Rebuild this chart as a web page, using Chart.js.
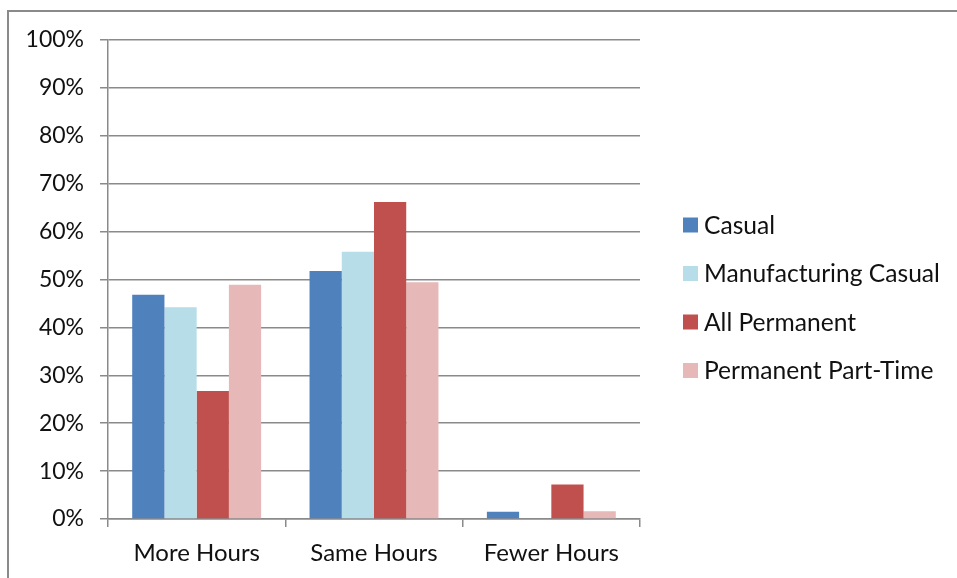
<!DOCTYPE html>
<html>
<head>
<meta charset="utf-8">
<script src="https://cdn.jsdelivr.net/npm/chart.js@4.4.1/dist/chart.umd.min.js"></script>
<style>
    html, body { margin: 0; padding: 0; background: #fff; overflow: hidden; }
    #frame {
        position: absolute; left: 7px; top: 10px; width: 980px; height: 600px;
        border-left: 2px solid #8a8a8a; border-top: 2px solid #8a8a8a;
    }
    #wrap { position: absolute; left: 0; top: 0; width: 957px; height: 578px; }
</style>
</head>
<body>
<div id="frame"></div>
<div id="wrap"><canvas id="hoursChart" width="957" height="578"></canvas></div>
<script>
const categories = ['More Hours', 'Same Hours', 'Fewer Hours'];
const casual = [46.8, 51.8, 1.5];
const manufacturingCasual = [44.2, 55.8, 0];
const allPermanent = [26.7, 66.2, 7.2];
const permanentPartTime = [48.9, 49.4, 1.6];
const yTicks = [0, 10, 20, 30, 40, 50, 60, 70, 80, 90, 100];

const FONT = 'Lato, "Open Sans", sans-serif';
const GRID = '#8a8a8a';

// Excel-style legend on the right: small square then label
const sideLegend = {
    id: 'sideLegend',
    afterDraw(chart) {
        const c = chart.ctx;
        const boxX = 683, box = 15, textX = 704, firstY = 225, step = 48.5;
        c.save();
        c.font = '24.6px ' + FONT;
        c.textBaseline = 'middle';
        c.textAlign = 'left';
        chart.data.datasets.forEach((ds, i) => {
            const cy = firstY + i * step;
            c.fillStyle = ds.backgroundColor;
            c.fillRect(boxX, cy - box / 2, box, box);
            c.fillStyle = '#111';
            c.fillText(ds.label, textX, cy + 1);
        });
        c.restore();
    }
};

const ctx = document.getElementById('hoursChart').getContext('2d');
new Chart(ctx, {
    type: 'bar',
    data: {
        labels: categories,
        datasets: [
            { label: 'Casual', data: casual, backgroundColor: '#4f81bd' },
            { label: 'Manufacturing Casual', data: manufacturingCasual, backgroundColor: '#b7dee8' },
            { label: 'All Permanent', data: allPermanent, backgroundColor: '#c0504d' },
            { label: 'Permanent Part-Time', data: permanentPartTime, backgroundColor: '#e6b9b8' }
        ]
    },
    options: {
        responsive: false,
        animation: false,
        layout: { padding: { left: 0, top: 40, right: 317, bottom: 0 } },
        datasets: { bar: { categoryPercentage: 0.727, barPercentage: 1.0, borderWidth: 0 } },
        plugins: {
            tooltip: { enabled: false },
            legend: { display: false }
        },
        scales: {
            y: {
                min: 0,
                max: 100,
                afterFit: (scale) => { scale.width = 108; },
                afterBuildTicks: (scale) => { scale.ticks = yTicks.map(v => ({ value: v })); },
                ticks: {
                    color: '#111',
                    font: { family: FONT, size: 23 },
                    padding: 16,
                    callback: (v) => v + '%'
                },
                grid: { color: GRID, lineWidth: 1.5, tickLength: 8 },
                border: { color: GRID, width: 1.5 }
            },
            x: {
                afterFit: (scale) => { scale.height = 59; },
                ticks: {
                    color: '#111',
                    font: { family: FONT, size: 24 },
                    padding: 12
                },
                grid: { offset: true, drawOnChartArea: false, color: GRID, lineWidth: 1.5, tickLength: 8 },
                border: { color: GRID, width: 1.5 }
            }
        }
    },
    plugins: [sideLegend]
});
</script>
</body>
</html>
